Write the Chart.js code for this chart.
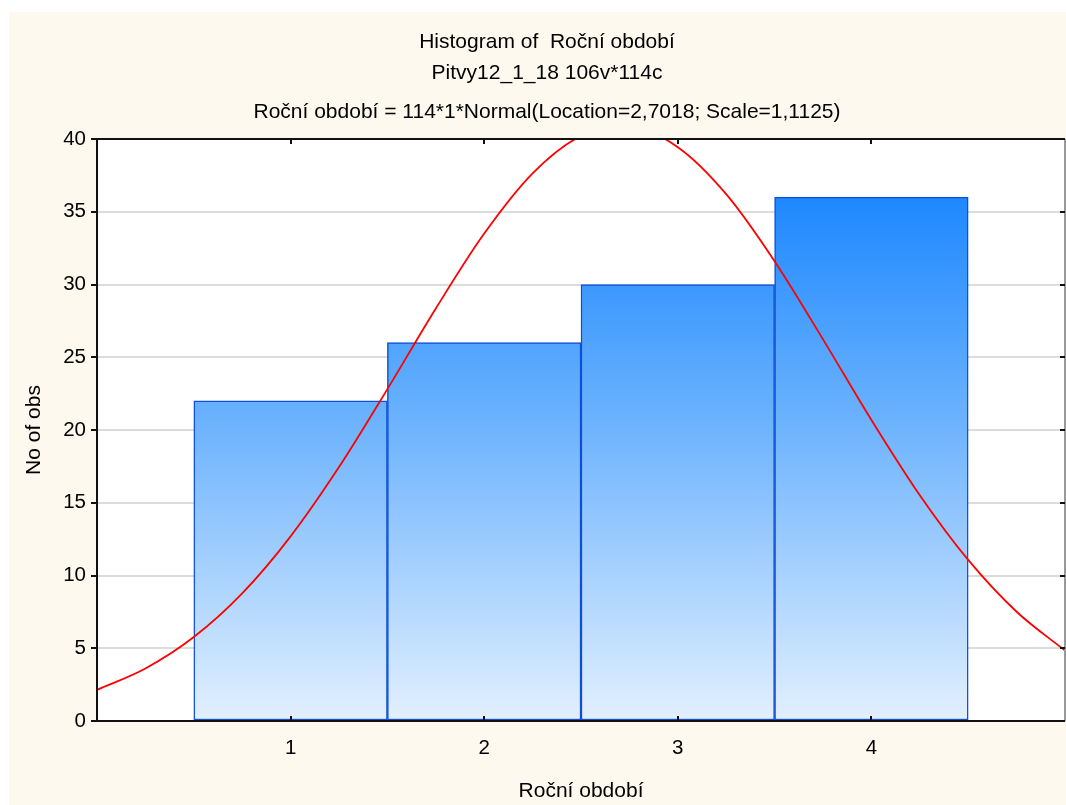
<!DOCTYPE html>
<html>
<head>
<meta charset="utf-8">
<script src="https://cdn.jsdelivr.net/npm/chart.js@4"></script>
<style>
  html, body { margin: 0; padding: 0; background: #ffffff; overflow: hidden; }
  #wrap { position: absolute; left: 9px; top: 12px; width: 1057px; height: 793px; }
</style>
</head>
<body>
<div id="wrap"><canvas id="chart"></canvas></div>
<script>
// Histogram data
const binCenters = [1, 2, 3, 4];
const binCounts = [22, 26, 30, 36];

// Fitted normal curve
const curveX = [0, 0.25, 0.5, 0.75, 1, 1.25, 1.5, 1.75, 2, 2.25, 2.5, 2.75, 3, 3.25, 3.5, 3.75, 4, 4.25, 4.5, 4.75, 5];
const curveY = [2.14, 3.61, 5.77, 8.77, 12.69, 17.45, 22.81, 28.35, 33.5, 37.64, 40.21, 40.84, 39.44, 36.21, 31.6, 26.23, 20.69, 15.52, 11.07, 7.51, 4.84];

const xTicks = [1, 2, 3, 4];
const yTicks = [0, 5, 10, 15, 20, 25, 30, 35, 40];

const titleLines = [
  'Histogram of  Roční období',
  'Pitvy12_1_18 106v*114c',
  'Roční období = 114*1*Normal(Location=2,7018; Scale=1,1125)'
];

const FONT = '"Liberation Sans", Arial, sans-serif';

// background, white plot area, titles
const backgroundPlugin = {
  id: 'background',
  beforeDraw(chart) {
    const ctx = chart.ctx;
    const a = chart.chartArea;
    ctx.save();
    ctx.fillStyle = '#fdf9ee';
    ctx.fillRect(0, 0, chart.width, chart.height);
    ctx.fillStyle = '#ffffff';
    ctx.fillRect(a.left, a.top, a.right - a.left, a.bottom - a.top);
    ctx.fillStyle = '#000';
    ctx.font = '21px ' + FONT;
    ctx.textAlign = 'center';
    ctx.textBaseline = 'middle';
    const cx = 538;
    ctx.fillText(titleLines[0], cx, 30);
    ctx.fillText(titleLines[1], cx, 61);
    ctx.fillText(titleLines[2], cx, 100);
    ctx.restore();
  }
};

// frame and inner tick marks
const framePlugin = {
  id: 'frame',
  afterDraw(chart) {
    const ctx = chart.ctx;
    const a = chart.chartArea;
    const xs = chart.scales.x;
    const ys = chart.scales.y;
    ctx.save();
    ctx.lineWidth = 2;
    ctx.strokeStyle = '#999';
    ctx.beginPath();
    ctx.moveTo(a.right, a.top);
    ctx.lineTo(a.right, a.bottom);
    ctx.stroke();
    ctx.strokeStyle = '#111';
    ctx.beginPath();
    ctx.moveTo(a.right, a.top);
    ctx.lineTo(a.left, a.top);
    ctx.lineTo(a.left, a.bottom);
    ctx.lineTo(a.right, a.bottom);
    ctx.stroke();
    ctx.beginPath();
    xTicks.forEach(v => {
      const px = Math.round(xs.getPixelForValue(v));
      ctx.moveTo(px, a.top);
      ctx.lineTo(px, a.top + 5);
      ctx.moveTo(px, a.bottom);
      ctx.lineTo(px, a.bottom - 5);
    });
    yTicks.forEach(v => {
      const py = Math.round(ys.getPixelForValue(v));
      ctx.moveTo(a.left, py);
      ctx.lineTo(a.left - 6, py);
      ctx.moveTo(a.right, py);
      ctx.lineTo(a.right - 5, py);
    });
    ctx.stroke();
    ctx.restore();
  }
};

const ctx = document.getElementById('chart').getContext('2d');

let barGradient = null;
function getGradient(chart) {
  const a = chart.chartArea;
  if (!a) return '#4da3ff';
  if (!barGradient) {
    barGradient = chart.ctx.createLinearGradient(0, a.top, 0, a.bottom);
    barGradient.addColorStop(0, '#1480ff');
    barGradient.addColorStop(0.1, '#1e88ff');
    barGradient.addColorStop(0.5, '#6fb4fd');
    barGradient.addColorStop(1, '#e3f0fe');
  }
  return barGradient;
}

new Chart(ctx, {
  type: 'bar',
  data: {
    datasets: [
      {
        type: 'line',
        data: curveX.map((x, i) => ({ x: x, y: curveY[i] })),
        borderColor: '#ff0000',
        borderWidth: 1.8,
        pointRadius: 0,
        cubicInterpolationMode: 'monotone',
        fill: false,
        order: 0
      },
      {
        type: 'bar',
        data: binCenters.map((x, i) => ({ x: x, y: binCounts[i] })),
        backgroundColor: (c) => getGradient(c.chart),
        borderColor: '#0d4fd8',
        borderWidth: 1.5,
        borderSkipped: false,
        barPercentage: 1,
        categoryPercentage: 1,
        order: 1
      }
    ]
  },
  options: {
    responsive: true,
    maintainAspectRatio: false,
    animation: false,
    layout: { padding: { top: 127, right: 1, left: 0, bottom: 0 } },
    plugins: {
      legend: { display: false },
      tooltip: { enabled: false }
    },
    scales: {
      x: {
        type: 'linear',
        min: 0,
        max: 5,
        offset: false,
        afterFit(scale) {
          scale.height = 84;
          scale.paddingLeft = 0;
          scale.paddingRight = 0;
        },
        grid: { display: false, drawTicks: false },
        border: { display: false },
        ticks: {
          stepSize: 1,
          padding: 15,
          color: '#000',
          font: { family: FONT, size: 20.5 },
          callback: (v) => (xTicks.includes(v) ? String(v) : '')
        },
        title: {
          display: true,
          text: 'Roční období',
          color: '#000',
          font: { family: FONT, size: 21 },
          padding: { top: 0, bottom: 1 }
        }
      },
      y: {
        min: 0,
        max: 40,
        afterFit(scale) { scale.width = 88; },
        grid: { color: '#dcdcdc', lineWidth: 2, drawTicks: false },
        border: { display: false },
        ticks: {
          stepSize: 5,
          padding: 11,
          color: '#000',
          font: { family: FONT, size: 20.5 }
        },
        title: {
          display: true,
          text: 'No of obs',
          color: '#000',
          font: { family: FONT, size: 21 },
          padding: { top: 13, bottom: 0 }
        }
      }
    }
  },
  plugins: [backgroundPlugin, framePlugin]
});
</script>
</body>
</html>
